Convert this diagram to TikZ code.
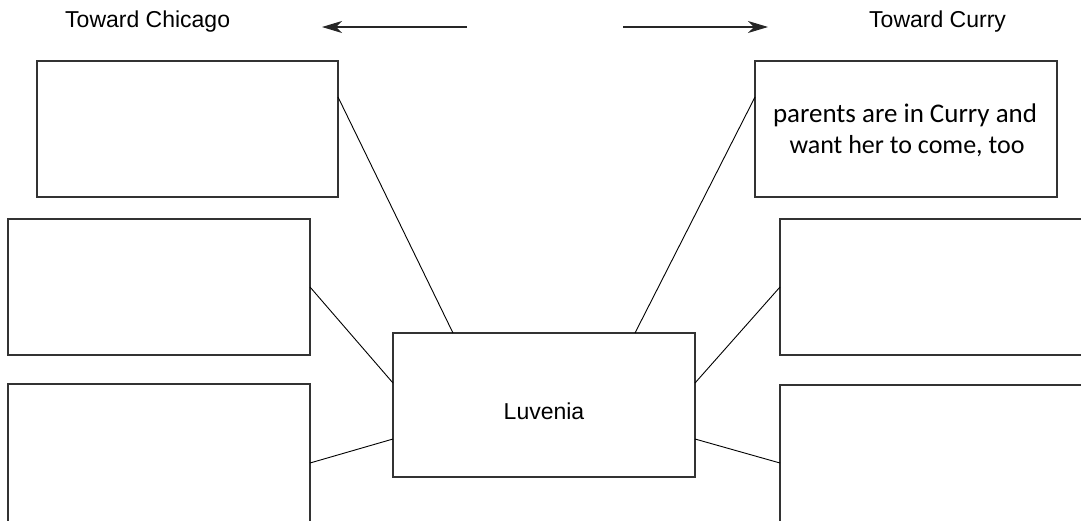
\documentclass[tikz,border=0pt]{standalone}
\usepackage{fontspec}
\setmainfont{Liberation Sans}
\newfontfamily\handfont{Carlito}
\usetikzlibrary{arrows.meta,calc}
\tikzset{
  box/.style={draw=black!80,line width=1.3pt,fill=none,inner sep=0pt,outer sep=0pt},
  link/.style={draw=black,line width=0.9pt},
  dirarrow/.style={draw=black!85,line width=1.1pt,-{Stealth[length=20pt,width=12pt,inset=6pt]}},
  lab/.style={font=\fontsize{23}{27}\selectfont,inner sep=0pt,anchor=base west},
}
\begin{document}
\begin{tikzpicture}[x=1pt,y=-1pt]
\useasboundingbox (0,0) rectangle (1081,520);
\clip (0,0) rectangle (1081,520);
% boxes
\node[box,minimum width=301pt,minimum height=136pt,anchor=north west] (TL) at (37,61) {};
\node[box,minimum width=302pt,minimum height=136pt,anchor=north west] (L2) at (8,219) {};
\node[box,minimum width=302pt,minimum height=160pt,anchor=north west] (L3) at (8,384) {};
\node[box,minimum width=302pt,minimum height=136pt,anchor=north west] (TR) at (755,61) {};
\node[box,minimum width=320pt,minimum height=136pt,anchor=north west] (R2) at (780,219) {};
\node[box,minimum width=320pt,minimum height=160pt,anchor=north west] (R3) at (780,385) {};
\node[box,minimum width=302pt,minimum height=144pt,anchor=north west] (C) at (393,333) {};
% texts
\node[lab] (tc) at (65,27) {Toward Chicago};
\node[lab] (tcu) at (869,27) {Toward Curry};
\node[lab,anchor=base] (lu) at (544,419) {Luvenia};
\node[inner sep=0pt,anchor=base] (h1) at (905,122) {\resizebox{264pt}{!}{\handfont parents are in Curry and}};
\node[inner sep=0pt,anchor=base] (h2) at (907,153) {\resizebox{235pt}{!}{\handfont want her to come, too}};
% arrows
\coordinate (la1) at (467,27);
\coordinate (la2) at (322,27);
\coordinate (ra1) at (623,27);
\coordinate (ra2) at (768,27);
\draw[dirarrow] (la1) -- (la2);
\draw[dirarrow] (ra1) -- (ra2);
% connector ends
\coordinate (tlE) at ($(TL.north east)+(0,36)$);
\coordinate (trW) at ($(TR.north west)+(0,36)$);
\coordinate (l3E) at ($(L3.north east)+(0,79)$);
\coordinate (r3W) at ($(R3.north west)+(0,78)$);
\coordinate (cT1) at ($(C.north west)+(60,0)$);
\coordinate (cT2) at ($(C.north east)+(-60,0)$);
\coordinate (cL1) at ($(C.north west)+(0,50)$);
\coordinate (cL2) at ($(C.north west)+(0,106)$);
\coordinate (cR1) at ($(C.north east)+(0,50)$);
\coordinate (cR2) at ($(C.north east)+(0,106)$);
\draw[link] (tlE) -- (cT1);
\draw[link] (trW) -- (cT2);
\draw[link] (L2.east) -- (cL1);
\draw[link] (l3E) -- (cL2);
\draw[link] (R2.west) -- (cR1);
\draw[link] (r3W) -- (cR2);
\end{tikzpicture}
\end{document}
